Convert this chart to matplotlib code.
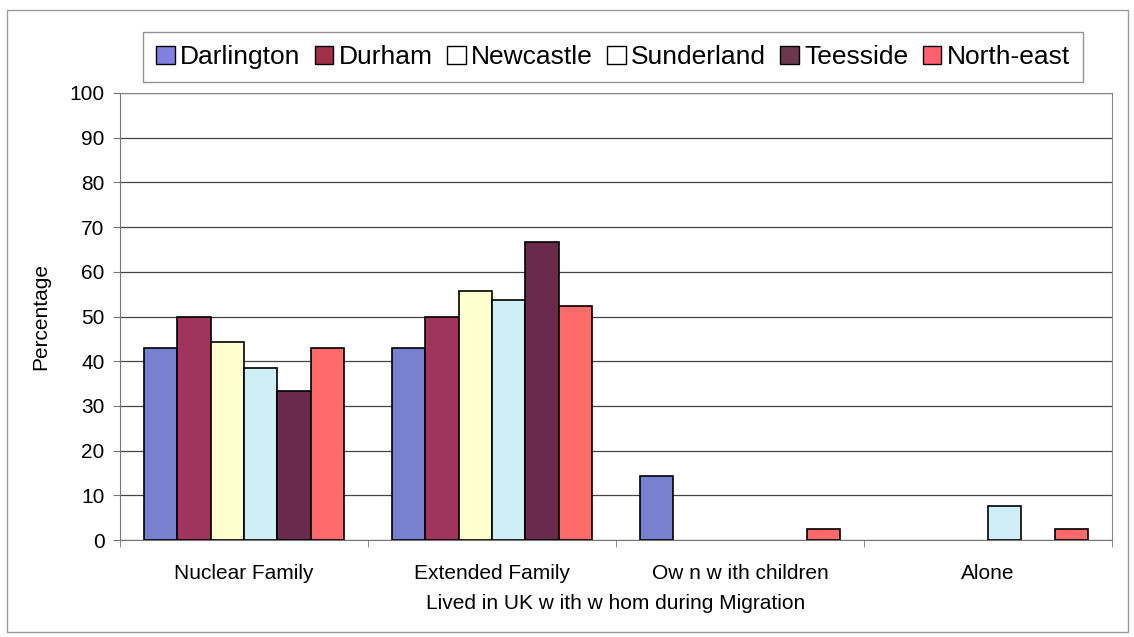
import matplotlib.pyplot as plt
import matplotlib.patches as mpatches
import numpy as np

plt.rcParams['font.family'] = ['Liberation Sans', 'DejaVu Sans']

categories = ['Nuclear Family', 'Extended Family', 'Ow n w ith children', 'Alone']
series = ['Darlington', 'Durham', 'Newcastle', 'Sunderland', 'Teesside', 'North-east']
darlington = [42.9, 42.9, 14.3, 0]
durham = [50.0, 50.0, 0, 0]
newcastle = [44.4, 55.6, 0, 0]
sunderland = [38.5, 53.8, 0, 7.7]
teesside = [33.3, 66.7, 0, 0]
north_east = [42.9, 52.4, 2.4, 2.4]
values = [darlington, durham, newcastle, sunderland, teesside, north_east]

colors = ['#7880d0', '#a0345a', '#ffffd0', '#d0eef6', '#6a2a4c', '#ff6a6a']
legend_colors = ['#8080e0', '#a0304a', '#ffffff', '#ffffff', '#6a3a4c', '#ff6070']

fig = plt.figure(figsize=(11.34, 6.37), dpi=100)
fig.patches.append(mpatches.Rectangle((7 / 1134, 1 - 632 / 637), 1121 / 1134, 622 / 637,
                                      transform=fig.transFigure, fill=False,
                                      edgecolor='#999999', lw=1))
ax = fig.add_axes([120 / 1134, 1 - 540 / 637, 992 / 1134, 447 / 637])

n = len(series)
gap = 1.45
w = 1.0 / (n + gap)
x = np.arange(len(categories))
for i, (name, vals) in enumerate(zip(series, values)):
    pos = x - 0.5 + (gap / 2 + i + 0.5) * w
    lws = [1.2 if v > 0 else 0 for v in vals]
    ax.bar(pos, vals, width=w, color=colors[i], edgecolor='black', linewidth=lws, zorder=3)

fs = 15
ax.set_xlim(-0.5, len(categories) - 0.5)
ax.set_ylim(0, 100)
ax.set_yticks(range(0, 101, 10))
ax.yaxis.grid(True, color='#444444', lw=0.9, zorder=0)
ax.set_xticks(x)
ax.set_xticklabels(categories, fontsize=fs)
ax.set_xticks(np.arange(len(categories) + 1) - 0.5, minor=True)
ax.tick_params(axis='x', which='major', length=0, pad=17)
ax.tick_params(axis='x', which='minor', length=5, color='#777777')
ax.tick_params(axis='y', labelsize=fs, length=5, color='#777777', pad=6)
for s in ['top', 'right']:
    ax.spines[s].set_color('#888888')
for s in ['left', 'bottom']:
    ax.spines[s].set_color('#777777')
ax.set_ylabel('Percentage', fontsize=fs, labelpad=14)
ax.set_xlabel('Lived in UK w ith w hom during Migration', fontsize=fs, labelpad=8)

handles = [mpatches.Patch(facecolor=c, edgecolor='black', lw=1) for c in legend_colors]
leg = fig.legend(handles, series, loc='center', bbox_to_anchor=(613 / 1134, 1 - 57 / 637),
                 ncol=6, fontsize=19, frameon=True, fancybox=False, edgecolor='#777777',
                 handlelength=0.7, handleheight=0.7, handletextpad=0.2, columnspacing=0.55,
                 borderpad=0.5, borderaxespad=0)
leg.get_frame().set_linewidth(1)

fig.savefig('out.png', dpi=100)
